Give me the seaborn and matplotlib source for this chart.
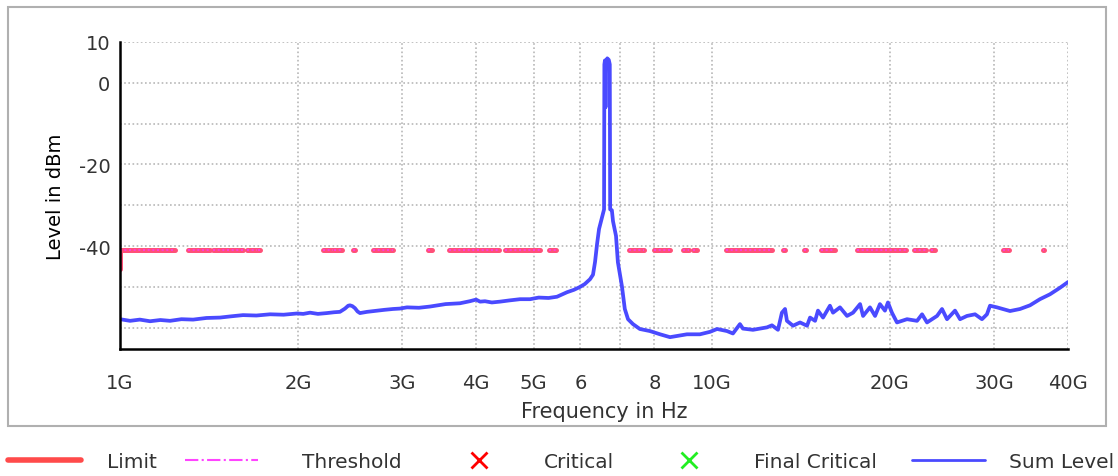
import pandas as pd
import matplotlib
matplotlib.use('Agg')
import matplotlib.pyplot as plt
import seaborn as sns
from matplotlib.lines import Line2D
from matplotlib.patches import Rectangle

# Sum level trace, frequency in GHz, level in dBm
sum_freq = [1.000, 1.040, 1.080, 1.124, 1.170, 1.215, 1.270, 1.329, 1.400, 1.476,
            1.540, 1.614, 1.700, 1.793, 1.890, 1.991, 2.040, 2.095, 2.160, 2.237,
            2.300, 2.353, 2.400, 2.430, 2.447, 2.470, 2.495, 2.520, 2.544, 2.615,
            2.719, 2.800, 2.893, 2.970, 3.055, 3.200, 3.341, 3.550, 3.754, 3.900,
            3.997, 4.060, 4.138, 4.250, 4.387, 4.550, 4.742, 4.931, 5.100, 5.300,
            5.476, 5.693, 5.850, 5.989, 6.100, 6.228, 6.300, 6.350, 6.400, 6.450,
            6.527, 6.577, 6.585, 6.600, 6.615, 6.630, 6.660, 6.700, 6.725, 6.735,
            6.780, 6.810, 6.890, 6.940, 7.050, 7.130, 7.220, 7.360, 7.560, 7.860,
            8.180, 8.500, 9.080, 9.550, 9.930, 10.21, 10.61, 10.86, 11.16, 11.29,
            11.74, 12.40, 12.64, 12.94, 13.14, 13.30, 13.40, 13.72, 14.10, 14.49,
            14.66, 14.95, 15.12, 15.42, 15.84, 16.03, 16.47, 16.93, 17.33, 17.81,
            18.02, 18.51, 18.88, 19.24, 19.62, 19.85, 20.16, 20.56, 21.38, 22.23,
            22.67, 23.11, 24.03, 24.50, 24.98, 25.77, 26.28, 27.00, 27.86, 28.62,
            29.18, 29.53, 30.34, 31.92, 33.19, 34.50, 35.86, 37.29, 38.77, 40.00]
sum_level = [-57.9, -58.3, -58.0, -58.4, -58.1, -58.3, -57.9, -58.0, -57.6, -57.5,
             -57.2, -56.9, -57.0, -56.7, -56.8, -56.5, -56.6, -56.3, -56.6, -56.4,
             -56.2, -56.1, -55.3, -54.6, -54.5, -54.7, -55.2, -56.0, -56.4, -56.1,
             -55.8, -55.6, -55.4, -55.3, -55.0, -55.1, -54.8, -54.2, -54.0, -53.5,
             -53.1, -53.6, -53.5, -53.8, -53.6, -53.3, -53.0, -53.0, -52.6, -52.7,
             -52.4, -51.3, -50.7, -50.0, -49.3, -48.1, -47.0, -43.9, -39.5, -35.8,
             -32.9, -31.0, 4.5, 5.5, -6.0, 5.0, 6.0, 5.6, 4.5, -31.0,
             -31.2, -33.9, -37.5, -43.9, -49.8, -55.4, -57.9, -59.1, -60.3, -60.8,
             -61.6, -62.3, -61.6, -61.6, -61.0, -60.3, -60.8, -61.4, -59.1, -60.2,
             -60.5, -59.9, -59.4, -60.5, -56.3, -55.4, -58.3, -59.5, -58.7, -59.5,
             -57.5, -58.3, -55.8, -57.5, -54.6, -56.3, -55.0, -57.1, -56.3, -54.2,
             -57.1, -55.0, -57.1, -54.2, -55.8, -53.8, -56.3, -58.7, -57.9, -58.3,
             -56.7, -58.7, -57.1, -55.4, -57.9, -55.8, -57.9, -57.1, -56.7, -57.9,
             -56.7, -54.6, -55.0, -55.9, -55.4, -54.5, -53.0, -51.8, -50.2, -48.8]

# visible pieces of the limit / threshold line (GHz)
limit_start = [1.000, 1.303, 1.436, 1.639, 1.714, 2.203, 2.299, 2.480, 2.676, 3.245,
               3.318, 3.597, 4.473, 5.309, 7.248, 7.989, 8.942, 9.297, 10.57, 13.21,
               14.33, 15.30, 17.60, 21.97, 23.47, 31.06, 36.25]
limit_end = [1.238, 1.419, 1.614, 1.704, 1.722, 2.291, 2.372, 2.492, 2.893, 3.257,
             3.367, 4.370, 5.126, 5.455, 7.685, 8.500, 9.155, 9.443, 12.64, 13.29,
             14.43, 16.16, 21.30, 23.02, 23.84, 31.79, 36.45]
limit_level = -41.0
limit_drop = -45.6

x_ticks = [1, 2, 3, 4, 5, 6, 7, 8, 10, 20, 30, 40]
x_labels = ['1G', '2G', '3G', '4G', '5G', '6', '', '8', '10G', '20G', '30G', '40G']
y_ticks = [10, 0, -10, -20, -30, -40, -50, -60]
y_labels = ['10', '0', '', '-20', '', '-40', '', '']

legend_labels = ['Limit', 'Threshold', 'Critical', 'Final Critical', 'Sum Level']

sum_df = pd.DataFrame({'freq': sum_freq, 'level': sum_level})

rows = []
for i, (a, b) in enumerate(zip(limit_start, limit_end)):
    if i == 0:
        rows.append((i, a, limit_drop))
    rows.append((i, a, limit_level))
    rows.append((i, b, limit_level))
lim_df = pd.DataFrame(rows, columns=['seg', 'freq', 'level'])

sns.set_theme(style='white')
plt.rcParams['font.family'] = ['DejaVu Sans']

W, H = 1118, 477
fig = plt.figure(figsize=(W / 100, H / 100), dpi=100)
ax = fig.add_axes([120 / W, 1 - 350 / H, 948 / W, 307 / H])

sns.lineplot(data=lim_df, x='freq', y='level', units='seg', estimator=None,
             sort=False, color='#ff5078', lw=3.6, ax=ax)
sns.lineplot(data=lim_df, x='freq', y='level', units='seg', estimator=None,
             sort=False, color='#ff38f0', lw=1.2, ls=(0, (1.2, 1.6)), ax=ax)
sns.lineplot(data=sum_df, x='freq', y='level', estimator=None, sort=False,
             color='#4a4aff', lw=2.7, ax=ax)

ax.set_xscale('log')
ax.set_xlim(1, 40)
ax.set_ylim(-65.2, 10)
ax.set_xticks(x_ticks)
ax.set_xticklabels(x_labels)
ax.minorticks_off()
ax.set_yticks(y_ticks)
ax.set_yticklabels(y_labels)

ax.grid(True, color='#b8b8b8', ls=(0, (1, 1.5)), lw=1.2)
for s in ['top', 'right']:
    ax.spines[s].set_visible(False)
for s in ['left', 'bottom']:
    ax.spines[s].set_color('black')
    ax.spines[s].set_linewidth(1.8)
ax.tick_params(axis='both', direction='inout', length=10, width=1.6,
               color='black', labelsize=14, labelcolor='#333333')
ax.tick_params(axis='x', pad=12)
ax.tick_params(axis='y', pad=2)

ax.set_xlabel('Frequency in Hz', fontsize=15, color='#333333', va='center')
ax.xaxis.set_label_coords((604 - 120) / 948, -(412 - 350) / 307)
ax.set_ylabel('Level in dBm', fontsize=14, color='black', labelpad=10)

# outer frame
fig.patches.append(Rectangle((8 / W, 1 - 427 / H), 1098 / W, 419 / H,
                             transform=fig.transFigure, fill=False,
                             edgecolor='#b0b0b0', lw=1.5))

handles = [
    Line2D([], [], color='#ff4a4a', lw=4),
    Line2D([], [], color='#ff44ff', lw=1.5, ls='-.'),
    Line2D([], [], color='red', marker='x', ls='none', ms=11, mew=2),
    Line2D([], [], color='#22ee22', marker='x', ls='none', ms=11, mew=2),
    Line2D([], [], color='#4a4aff', lw=2),
]
# one legend box per entry, placed like the original footer
item_left = [8, 185, 443, 653, 912]
text_pad = [1.3, 2.2, 1.4, 1.4, 1.2]
for h, lab, x0, tp in zip(handles, legend_labels, item_left, text_pad):
    fig.legend([h], [lab], loc='center left', bbox_to_anchor=(x0 / W, 1 - 463 / H),
               frameon=False, fontsize=14.5, handlelength=3.6, handletextpad=tp,
               borderpad=0, borderaxespad=0, labelcolor='#333333')

fig.savefig('out.png', dpi=100)
